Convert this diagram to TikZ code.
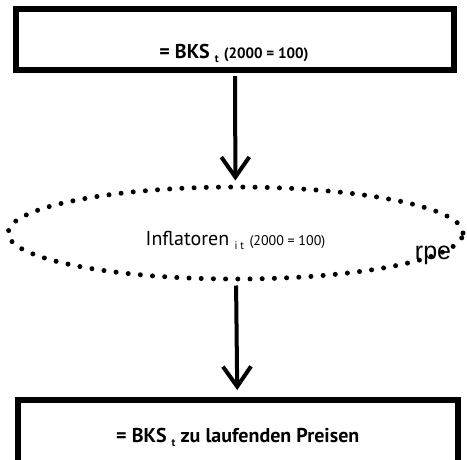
\documentclass[tikz,border=0pt]{standalone}
\usepackage{fontspec}
\setmainfont{PT Sans}
\newfontfamily\strayfont{Liberation Sans}
\usetikzlibrary{shapes.geometric,arrows.meta}

\newcommand{\subidx}[1]{\raisebox{-4pt}{\fontsize{11}{11}\selectfont #1}}

\begin{document}
\begin{tikzpicture}[x=1pt,y=-1pt,>={Straight Barb[length=20pt,width=28pt]},
  box/.style={draw,rectangle,line width=6pt,minimum width=438pt,inner sep=0pt},
  infl node/.style={draw,ellipse,line width=5pt,line cap=round,
    dash pattern=on 0pt off 12.2pt,minimum width=455pt,minimum height=92pt,inner sep=0pt},
  flow/.style={->,line width=4pt}]
   \useasboundingbox (0,0) rectangle (467,459);
   \clip (0,0) rectangle (467,459);
   \node[box,minimum height=61pt] (bks_idx) at (235,39.5) {};
   \node (bks_idx_text) at (234,53) {\bfseries\fontsize{20}{20}\selectfont = BKS \subidx{t} {\fontsize{15}{15}\selectfont(2000 = 100)}};
   \node[infl node] (infl) at (235.5,233) {};
   \node (infl_text) at (235.5,240) {\fontsize{20}{20}\selectfont Inflatoren \subidx{i t} {\fontsize{14}{14}\selectfont(2000 = 100)}};
   \node (stray) at (433,255) {\strayfont\fontsize{25}{25}\selectfont rpe};
   \node[box,minimum width=439.5pt,minimum height=74pt] (bks_cur) at (237.75,437)
     {\bfseries\fontsize{20}{20}\selectfont = BKS \subidx{t} zu laufenden Preisen};
    \path[flow]
    (bks_idx) edge [shorten <=3pt,shorten >=4pt] (infl)
    (infl) edge [shorten <=4pt,shorten >=7pt] (bks_cur);
\end{tikzpicture}
\end{document}
